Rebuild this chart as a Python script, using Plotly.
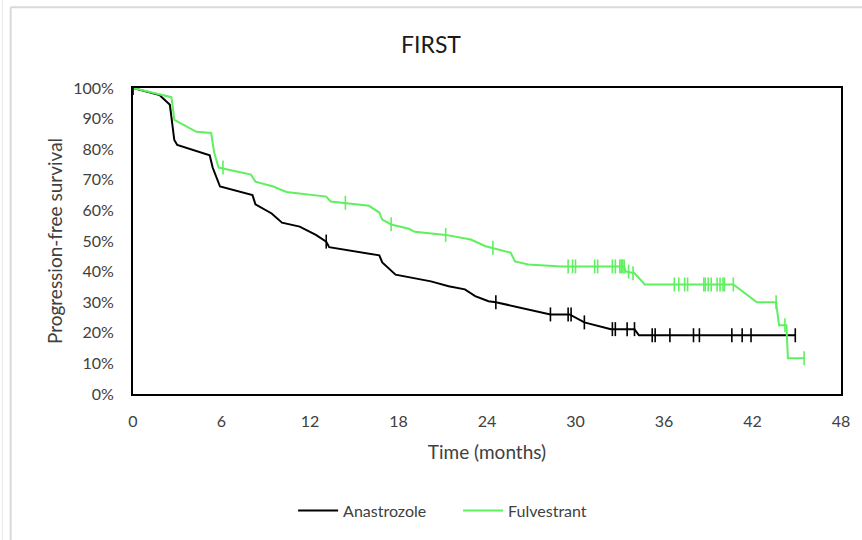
import plotly.graph_objects as go

# Anastrozole KM curve (months, survival fraction)
ana_t = [0, 1.8, 2.5, 2.8, 3.0, 5.2, 5.4, 5.9, 8.1, 8.3, 9.4, 10.1, 11.3, 12.4, 13.1, 13.3,
         16.7, 16.9, 17.8, 20.2, 21.4, 22.5, 23.2, 24.1, 24.6, 27.6, 28.3, 29.6, 30.6, 32.4,
         34.0, 34.3, 44.9]
ana_s = [1.00, 0.977, 0.945, 0.83, 0.814, 0.78, 0.74, 0.678, 0.65, 0.62, 0.59, 0.56, 0.547,
         0.52, 0.498, 0.48, 0.453, 0.43, 0.39, 0.368, 0.352, 0.342, 0.32, 0.303, 0.30, 0.267,
         0.26, 0.26, 0.234, 0.212, 0.212, 0.192, 0.192]
ana_cens_t = [0, 13.1, 24.6, 28.3, 29.5, 29.7, 30.6, 32.5, 32.7, 33.5, 34.0, 35.2, 35.4, 36.4,
              38.0, 38.4, 40.6, 41.3, 41.9, 44.9]
ana_cens_s = [1.0, 0.498, 0.30, 0.26, 0.26, 0.26, 0.234, 0.212, 0.212, 0.212, 0.212, 0.192,
              0.192, 0.192, 0.192, 0.192, 0.192, 0.192, 0.192, 0.192]

# Fulvestrant KM curve
ful_t = [0, 2.6, 2.7, 2.8, 3.4, 4.3, 5.3, 5.5, 5.8, 8.0, 8.3, 9.5, 10.4, 13.1, 13.4, 16.0,
         16.7, 16.9, 17.5, 18.7, 19.1, 21.2, 22.9, 23.9, 25.6, 25.9, 26.8, 29.0, 33.3, 33.4,
         34.0, 34.7, 40.7, 42.3, 43.6, 43.8, 44.3, 44.4, 45.5]
ful_s = [1.00, 0.97, 0.935, 0.896, 0.88, 0.857, 0.853, 0.79, 0.74, 0.717, 0.694, 0.678, 0.66,
         0.645, 0.629, 0.615, 0.593, 0.57, 0.554, 0.54, 0.53, 0.52, 0.505, 0.483, 0.462, 0.433,
         0.423, 0.417, 0.417, 0.40, 0.395, 0.358, 0.358, 0.30, 0.30, 0.225, 0.225, 0.117, 0.117]
ful_cens_t = [6.1, 14.4, 17.5, 21.2, 24.4, 29.5, 29.8, 30.0, 31.3, 31.5, 32.5, 32.7, 33.0,
              33.1, 33.2, 33.3, 33.6, 33.9, 36.7, 37.0, 37.4, 37.6, 38.7, 38.8, 39.0, 39.2,
              39.6, 39.8, 40.0, 40.1, 40.7, 43.6, 44.2, 45.5]
ful_cens_s = [0.74, 0.625, 0.555, 0.52, 0.478, 0.417, 0.417, 0.417, 0.417, 0.417, 0.417,
              0.417, 0.417, 0.417, 0.417, 0.417, 0.40, 0.395, 0.358, 0.358, 0.358, 0.358,
              0.358, 0.358, 0.358, 0.358, 0.358, 0.358, 0.358, 0.358, 0.358, 0.30, 0.225, 0.117]

x_ticks = [0, 6, 12, 18, 24, 30, 36, 42, 48]

BLACK = "#000000"
GREEN = "#5ef05e"
FONT = "Lato, Open Sans, sans-serif"
TXT = "#404040"

fig = go.Figure()
fig.add_trace(go.Scatter(x=ana_t, y=ana_s, mode="lines", name="Anastrozole",
                         line=dict(color=BLACK, width=2)))
fig.add_trace(go.Scatter(x=ful_t, y=ful_s, mode="lines", name="Fulvestrant",
                         line=dict(color=GREEN, width=2)))
fig.add_trace(go.Scatter(x=ana_cens_t, y=ana_cens_s, mode="markers", showlegend=False,
                         marker=dict(symbol="line-ns", size=10,
                                     line=dict(color=BLACK, width=1.6))))
fig.add_trace(go.Scatter(x=ful_cens_t, y=ful_cens_s, mode="markers", showlegend=False,
                         marker=dict(symbol="line-ns", size=10,
                                     line=dict(color=GREEN, width=1.6))))

# light gray outer frame
fig.add_shape(type="line", xref="paper", yref="paper",
              x0=(10 - 133) / 712, x1=(870 - 133) / 712,
              y0=(395 - 7) / 307, y1=(395 - 7) / 307,
              line=dict(color="#d9d9d9", width=2))
fig.add_shape(type="line", xref="paper", yref="paper",
              x0=(10 - 133) / 712, x1=(10 - 133) / 712,
              y0=(395 - 7) / 307, y1=(395 - 545) / 307,
              line=dict(color="#d9d9d9", width=2))
fig.add_shape(type="line", xref="paper", yref="paper",
              x0=(1.5 - 133) / 712, x1=(1.5 - 133) / 712,
              y0=(395 + 5) / 307, y1=(395 - 545) / 307,
              line=dict(color="#e6e6e6", width=1))

fig.update_layout(
    width=862, height=540,
    margin=dict(l=133, r=17, t=88, b=145),
    paper_bgcolor="white", plot_bgcolor="white",
    font=dict(family=FONT, color=TXT, size=16),
    title=dict(text="FIRST", x=0.5, xanchor="center", y=1 - 45 / 540, yanchor="middle",
               font=dict(size=23, color="#1a1a1a", family=FONT)),
    showlegend=True,
    legend=dict(orientation="h", x=(294 - 133) / 712, xanchor="left", y=(395 - 512) / 307,
                yanchor="middle", font=dict(size=16, color=TXT),
                itemwidth=40, tracegroupgap=0, entrywidth=110, entrywidthmode="pixels"),
    xaxis=dict(range=[0, 48], tickvals=x_ticks, ticktext=[str(v) for v in x_ticks],
               showgrid=False, zeroline=False, showline=True, linecolor=BLACK,
               linewidth=2, mirror=True, ticks="", ticklen=0, ticklabelstandoff=12,
               tickfont=dict(size=16, color=TXT),
               title=dict(text="Time (months)", font=dict(size=19, color=TXT),
                          standoff=16)),
    yaxis=dict(range=[0, 1], dtick=0.1, tickformat=".0%", showgrid=False, zeroline=False,
               showline=True, linecolor=BLACK, linewidth=2, mirror=True, ticks="",
               ticklabelstandoff=14,
               tickfont=dict(size=16, color=TXT),
               title=dict(text="Progression-free survival",
                          font=dict(size=19, color=TXT), standoff=5)),
)

fig.write_html("out.html")
